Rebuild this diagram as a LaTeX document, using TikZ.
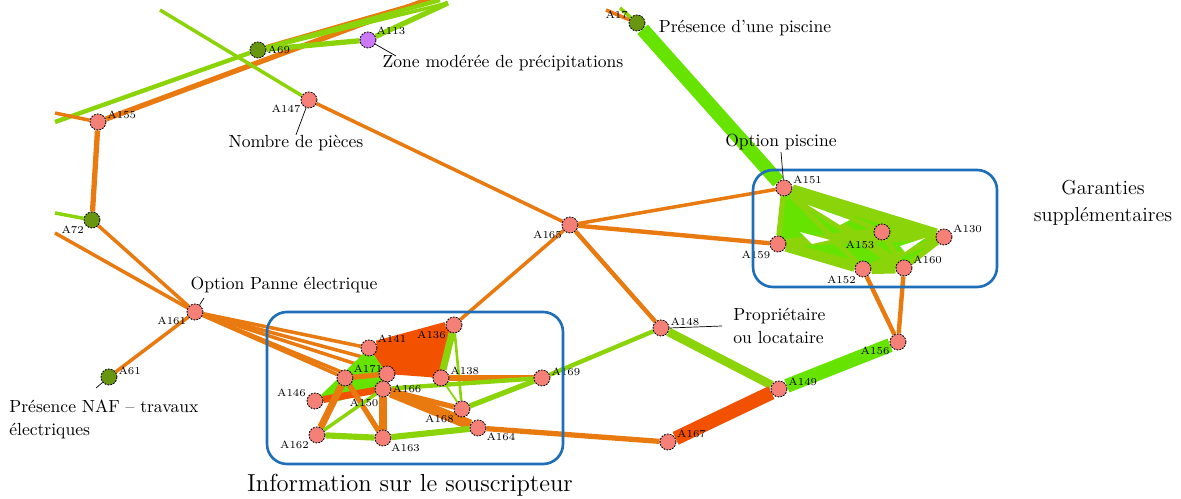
\documentclass[tikz,border=0pt]{standalone}
\usepackage{tikz}
\usetikzlibrary{positioning}
\usepackage{xcolor}
\definecolor{linkorange}{RGB}{232, 122, 16}
\definecolor{linklime}{RGB}{140, 212, 10}
\definecolor{linkgreen}{RGB}{102, 228, 0}
\definecolor{linkred}{RGB}{242, 82, 0}
\definecolor{nodesalmon}{RGB}{244, 128, 120}
\definecolor{nodeolive}{RGB}{104, 150, 16}
\definecolor{nodeviolet}{RGB}{204, 120, 250}
\definecolor{groupblue}{RGB}{30, 110, 185}
\pgfdeclarelayer{background}
\pgfsetlayers{background,main}

\begin{document}
\begin{tikzpicture}[x=0.02cm, y=-0.02cm, font=\normalsize,
  anode/.style={circle, draw=black, dash pattern=on 1pt off 0.7pt, line width=0.5pt,
    fill=nodesalmon, minimum size=0.32cm, inner sep=0pt},
  onode/.style={anode, fill=nodeolive},
  vnode/.style={anode, fill=nodeviolet},
  nlab/.style={font=\fontsize{6}{6}\selectfont, inner sep=0.5pt},
  oe/.style={draw=linkorange, line width=#1},
  le/.style={draw=linklime, line width=#1},
  ge/.style={draw=linkgreen, line width=#1},
  re/.style={draw=linkred, line width=#1},
  lead/.style={draw=black, line width=0.4pt},
  group/.style={draw=groupblue, line width=1.5pt, rounded corners=0.4cm},
  txt/.style={inner sep=0pt, align=left}]
  \useasboundingbox (0,0) rectangle (1181,499);

  % Nodes, top and left
  \node[onode, label={[nlab]0:A69}] (A69) at (258,50) {};
  \node[vnode, label={[nlab]30:A113}] (A113) at (368,40) {};
  \node[onode, label={[nlab]160:A17}] (A17) at (637,23) {};
  \node[anode, label={[nlab]210:A147}] (A147) at (309,100) {};
  \node[anode, label={[nlab]15:A155}] (A155) at (98,122) {};
  \node[onode, label={[nlab]215:A72}] (A72) at (92,220) {};
  \node[anode, label={[nlab]205:A161}] (A161) at (195,312) {};
  \node[onode, label={[nlab]10:A61}] (A61) at (109,377) {};
  \node[anode, label={[nlab]215:A165}] (A165) at (570,225) {};
  \node[anode, label={[nlab]10:A148}] (A148) at (661,328) {};
  \node[anode, label={[nlab]15:A149}] (A149) at (779,389) {};
  \node[anode, label={[nlab]20:A167}] (A167) at (668,442) {};
  \node[anode, label={[nlab]210:A156}] (A156) at (898,342) {};

  % Nodes, Garanties
  \node[anode, label={[nlab]20:A151}] (A151) at (784,188) {};
  \node[anode, label={[nlab]220:A159}] (A159) at (778,244) {};
  \node[anode] (A153) at (882,232) {};
  \node[nlab] (lA153) at (860,245) {A153};
  \node[anode, label={[nlab]20:A130}] (A130) at (944,237) {};
  \node[anode, label={[nlab]225:A152}] (A152) at (863,269) {};
  \node[anode, label={[nlab]20:A160}] (A160) at (904,268) {};

  % Nodes, souscripteur
  \node[anode, label={[nlab]215:A136}] (A136) at (454,325) {};
  \node[anode, label={[nlab]30:A141}] (A141) at (369,348) {};
  \node[anode, label={[nlab]30:A171}] (A171) at (345,378) {};
  \node[anode] (A166t) at (387,374) {};
  \node[anode, label={[nlab]0:A166}] (A166) at (383,389) {};
  \node[anode, label={[nlab]15:A138}] (A138) at (441,378) {};
  \node[anode, label={[nlab]10:A169}] (A169) at (542,378) {};
  \node[anode, label={[nlab]160:A146}] (A146) at (315,401) {};
  \node[nlab] (lA150) at (364,403) {A150};
  \node[anode, label={[nlab]215:A168}] (A168) at (462,409) {};
  \node[anode, label={[nlab]215:A162}] (A162) at (317,435) {};
  \node[anode, label={[nlab]-35:A163}] (A163) at (383,438) {};
  \node[anode, label={[nlab]-30:A164}] (A164) at (478,428) {};

  % Free ends at the border
  \coordinate (t1) at (432,-2);
  \coordinate (t2) at (440,0);
  \coordinate (t3) at (425,2);
  \coordinate (t4) at (448,3);
  \coordinate (t5) at (160,10);
  \coordinate (t6) at (606,10);
  \coordinate (t7) at (620,8);
  \coordinate (w1) at (55,113);
  \coordinate (w2) at (55,122);
  \coordinate (w3) at (55,213);
  \coordinate (w4) at (55,233);
  \coordinate (g1) at (335,402);

  \begin{pgfonlayer}{background}
    % Top left links
    \draw[oe=3pt] (t1) -- (A155);
    \draw[oe=3pt] (t3) -- (A69);
    \draw[le=2.5pt] (w2) -- (A69) -- (t2);
    \draw[le=2pt] (A69) -- (t4);
    \draw[le=3pt] (A69) -- (A113) -- (t4);
    \draw[le=2pt] (t5) -- (A147);
    \draw[oe=2pt] (w1) -- (A155);
    \draw[oe=3pt] (A155) -- (A72);
    \draw[le=2pt] (w3) -- (A72);
    \draw[oe=2pt] (A72) -- (A161);
    \draw[oe=2pt] (w4) -- (A161);
    \draw[oe=2pt] (A161) -- (A61);
    \draw[oe=2pt] (t6) -- (A17);
    \draw[le=2pt] (t7) -- (A17);
    \draw[ge=8pt] (A17) -- (A151);
    \draw[oe=2pt] (A147) -- (A165);
    % Bundle from A161
    \foreach \b in {A141, A171, A166t, A166, A138}
      \draw[oe=2pt] (A161) -- (\b);
    % Middle links
    \draw[oe=2pt] (A165) -- (A151);
    \draw[oe=2.5pt] (A165) -- (A159);
    \draw[oe=2pt] (A165) -- (A136);
    \draw[oe=2.5pt] (A165) -- (A148);
    \draw[le=2.5pt] (A148) -- (A169);
    \draw[le=5pt] (A148) -- (A149);
    \draw[ge=8pt] (A149) -- (A156);
    \draw[re=8pt] (A149) -- (A167);
    \draw[oe=3pt] (A167) -- (A164);
    \draw[oe=2.5pt] (A156) -- (A152);
    \draw[oe=2.5pt] (A156) -- (A160);
    % Garanties links
    \fill[linkgreen] (A151.center) -- (A130.center) -- (A160.center) -- (A152.center) -- (A159.center) -- cycle;
    \foreach \a/\b/\w in {A151/A130/7pt, A151/A159/3pt, A151/A160/5pt, A151/A153/3pt,
        A151/A152/3pt, A159/A153/5pt, A159/A130/3pt, A159/A152/6pt, A152/A160/6pt,
        A160/A130/3pt, A153/A160/3pt, A153/A130/5pt, A152/A130/3pt}
      \draw[le=\w] (\a) -- (\b);
    \fill[white] (808,205) -- (850,220) -- (840,225) -- cycle;
    \fill[white] (800,232) -- (830,240) -- (812,244) -- cycle;
    \fill[white] (900,246) -- (925,238) -- (905,252) -- cycle;
    % Souscripteur links
    \fill[linkred] (A141.center) -- (A136.center) -- (A138.center) -- (A166t.center) -- cycle;
    \fill[linkgreen] (A141.center) -- (A166t.center) -- (A166.center) -- (g1) -- (A146.center) -- cycle;
    \draw[re=6pt] (A141) -- (A136);
    \draw[re=4pt] (A146) -- (A166);
    \draw[le=4pt] (A136) -- (A138);
    \draw[le=1.5pt] (A136) -- (A168);
    \draw[le=1pt] (A138) -- (A168);
    \draw[oe=3pt] (A138) -- (A169);
    \draw[le=2.5pt] (A166) -- (A169);
    \draw[le=3pt] (A168) -- (A169);
    \draw[oe=6pt] (A166) -- (A164);
    \draw[oe=3pt] (A166) -- (A168);
    \draw[oe=4pt] (A171) -- (A162);
    \draw[oe=3pt] (A171) -- (A163);
    \draw[oe=4pt] (A166) -- (A163);
    \draw[oe=3pt] (A171) -- (A166t);
    \draw[le=3.5pt] (A162) -- (A163);
    \draw[le=3.5pt] (A163) -- (A164);
    \draw[le=2pt] (A162) -- (A166);
  \end{pgfonlayer}

  % Groups
  \draw[group] (267,312) rectangle (563,464);
  \draw[group] (753,170) rectangle (997,287);

  % Texts and leaders
  \node[txt] (tZone) at (503,63) {Zone modérée de précipitations};
  \coordinate (cZone) at (396,56);
  \draw[lead] (A113) -- (cZone);
  \node[txt] (tPiscine) at (745,28) {Présence d'une piscine};
  \node[txt] (tPieces) at (296,143) {Nombre de pièces};
  \draw[lead] (A147) -- (tPieces.north);
  \node[txt] (tOption) at (781,142) {Option piscine};
  \coordinate (cOption) at (781,152);
  \draw[lead] (cOption) -- (A151);
  \node[txt] (tPanne) at (284,285) {Option Panne électrique};
  \coordinate (cPanne) at (204,298);
  \draw[lead] (cPanne) -- (A161);
  \node[txt, anchor=west] (tProp) at (733,326) {Propriétaire\\[1pt]ou locataire};
  \coordinate (cProp) at (722,326);
  \draw[lead] (A148.east) -- (cProp);
  \node[txt, anchor=west] (tNaf) at (9,419) {Présence NAF -- travaux\\[1pt]électriques};
  \coordinate (cNaf) at (96,388);
  \draw[lead] (A61) -- (cNaf);
  \node[txt, align=center, font=\fontsize{11.5}{15}\selectfont] (tGaranties) at (1103,203) {Garanties\\supplémentaires};
  \node[txt, font=\fontsize{14}{16}\selectfont] (tInfo) at (410,485) {Information sur le souscripteur};
\end{tikzpicture}
\end{document}
